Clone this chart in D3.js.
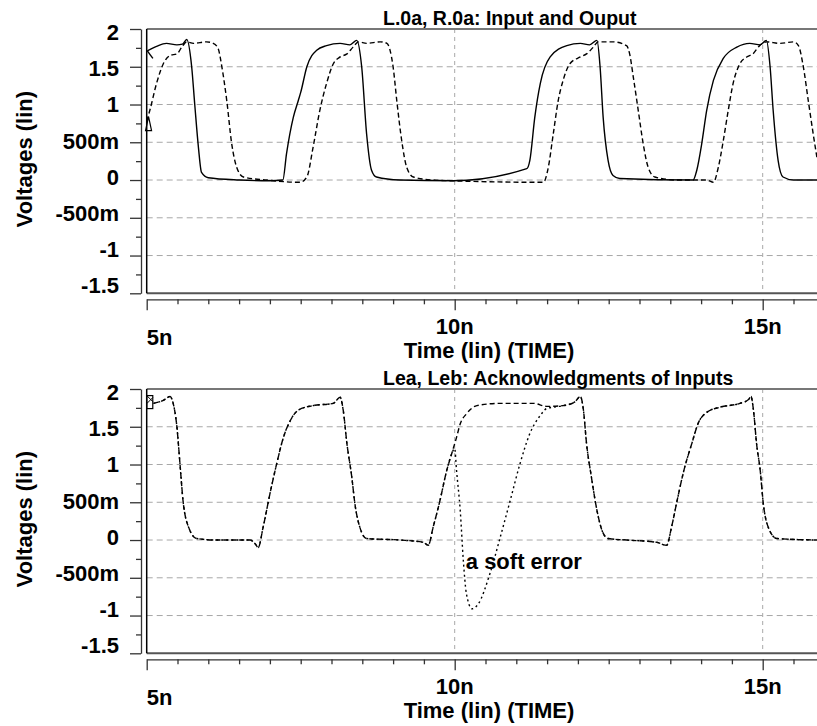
<!DOCTYPE html>
<html>
<head>
<meta charset="utf-8">
<script src="https://cdn.jsdelivr.net/npm/d3@7"></script>
<style>
  body { margin: 0; background: #fff; }
  text { font-family: "Liberation Sans", Arial, sans-serif; font-weight: bold; fill: #000; }
</style>
</head>
<body>
<div id="viz"></div>
<script>
const width = 817;
const height = 726;

// ---- data (time in ns, voltage in V) ----
const yTicks = [2, 1.5, 1, 0.5, 0, -0.5, -1, -1.5];
const yTickLabels = ["2", "1.5", "1", "500m", "0", "-500m", "-1", "-1.5"];
const yMinorTicks = [1.75, 1.25, 0.75, 0.25, -0.25, -0.75, -1.25];
const xTicks = [5, 10, 15];
const xTickLabels = ["5n", "10n", "15n"];
const xMinorTicks = d3.range(5.5, 16.01, 0.5).filter(t => t % 5 !== 0);
const yGrid = [1.5, 1, 0.5, 0, -0.5, -1];
const xGrid = [10, 15];

// top panel: L.0a (solid), R.0a (dashed)
const topSolid = [
  [5.01, 1.71], [5.16, 1.77], [5.32, 1.81], [5.49, 1.79], [5.58, 1.80], [5.65, 1.86],
  [5.73, 1.50], [5.78, 1.00], [5.84, 0.43], [5.89, 0.10], [6.00, 0.03], [6.50, 0.00], [7.00, -0.01],
  [7.21, 0.00], [7.27, 0.35], [7.38, 0.83], [7.46, 1.05], [7.50, 1.16], [7.60, 1.50], [7.76, 1.72],
  [7.92, 1.78], [8.14, 1.81], [8.30, 1.79], [8.41, 1.85], [8.49, 1.50], [8.57, 0.61], [8.65, 0.13],
  [8.73, 0.04], [9.11, 0.00], [9.97, -0.01], [11.17, 0.15], [11.22, 0.26], [11.30, 0.83], [11.39, 1.28],
  [11.55, 1.63], [11.82, 1.78], [12.04, 1.81], [12.19, 1.79], [12.31, 1.85], [12.36, 1.50], [12.41, 0.83],
  [12.49, 0.26], [12.57, 0.06], [12.68, 0.02], [13.87, 0.00], [13.93, 0.13], [14.01, 0.48], [14.09, 0.92],
  [14.20, 1.32], [14.36, 1.61], [14.58, 1.76], [14.79, 1.81], [14.96, 1.79], [15.06, 1.85], [15.12, 1.50],
  [15.17, 0.92], [15.25, 0.26], [15.33, 0.04], [15.50, 0.00], [15.90, 0.00]
];
const topDashed = [
  [5.00, 0.78], [5.05, 0.92], [5.16, 1.28], [5.27, 1.54], [5.38, 1.65], [5.49, 1.67], [5.57, 1.76],
  [5.65, 1.83], [5.76, 1.81], [5.97, 1.83], [6.08, 1.81], [6.16, 1.74], [6.22, 1.50], [6.30, 1.05],
  [6.38, 0.48], [6.46, 0.17], [6.57, 0.04], [6.95, 0.00], [7.49, -0.03], [7.60, 0.04], [7.70, 0.43],
  [7.81, 0.92], [7.92, 1.28], [8.03, 1.54], [8.14, 1.63], [8.25, 1.67], [8.35, 1.76], [8.44, 1.83],
  [8.57, 1.81], [8.79, 1.83], [8.90, 1.81], [8.95, 1.72], [9.00, 1.50], [9.06, 1.05], [9.14, 0.52],
  [9.22, 0.17], [9.33, 0.04], [9.65, 0.00], [9.97, -0.01], [11.44, -0.03], [11.52, 0.17], [11.60, 0.61],
  [11.68, 1.05], [11.76, 1.32], [11.87, 1.54], [12.04, 1.63], [12.14, 1.67], [12.25, 1.76], [12.33, 1.83],
  [12.57, 1.83], [12.79, 1.78], [12.84, 1.67], [12.90, 1.36], [12.98, 0.92], [13.06, 0.48], [13.14, 0.17],
  [13.25, 0.04], [13.60, 0.00], [14.09, 0.00], [14.20, -0.03], [14.28, 0.17], [14.36, 0.52], [14.44, 0.92],
  [14.52, 1.28], [14.63, 1.54], [14.74, 1.63], [14.84, 1.67], [14.95, 1.78], [15.06, 1.83], [15.28, 1.81],
  [15.50, 1.83], [15.58, 1.78], [15.66, 1.50], [15.74, 1.05], [15.82, 0.61], [15.88, 0.30]
];

// bottom panel: Lea (dashed), Leb (dotted, with the soft error)
const bottomLea = [
  [5.11, 1.81], [5.27, 1.85], [5.38, 1.90], [5.43, 1.81], [5.49, 1.50], [5.54, 1.01], [5.59, 0.52],
  [5.68, 0.17], [5.81, 0.02], [6.14, 0.00], [6.68, 0.00], [6.76, -0.05], [6.81, -0.10], [6.89, 0.17],
  [7.00, 0.61], [7.11, 1.01], [7.22, 1.36], [7.33, 1.58], [7.46, 1.72], [7.70, 1.78], [8.03, 1.81],
  [8.14, 1.89], [8.19, 1.72], [8.25, 1.28], [8.33, 0.83], [8.38, 0.48], [8.46, 0.17], [8.57, 0.02],
  [9.11, 0.00], [9.49, -0.03], [9.57, -0.07], [9.65, 0.17], [9.76, 0.52], [9.87, 0.92], [9.95, 1.14],
  [10.03, 1.36], [10.09, 1.54], [10.19, 1.67], [10.36, 1.78], [10.74, 1.81], [11.28, 1.81], [11.49, 1.77],
  [11.76, 1.78], [11.95, 1.83], [12.04, 1.90], [12.09, 1.72], [12.14, 1.28], [12.22, 0.83], [12.31, 0.39],
  [12.39, 0.13], [12.49, 0.02], [12.79, 0.00], [13.28, -0.03], [13.44, -0.07], [13.52, 0.17], [13.61, 0.52],
  [13.72, 0.92], [13.85, 1.28], [13.95, 1.54], [14.09, 1.69], [14.31, 1.76], [14.63, 1.81], [14.77, 1.86],
  [14.81, 1.90], [14.85, 1.72], [14.90, 1.28], [14.96, 0.92], [15.01, 0.48], [15.09, 0.17], [15.23, 0.02],
  [15.88, 0.00]
];
const bottomLeb = [
  [5.11, 1.81], [5.27, 1.85], [5.38, 1.90], [5.43, 1.81], [5.49, 1.50], [5.54, 1.01], [5.59, 0.52],
  [5.68, 0.17], [5.81, 0.02], [6.14, 0.00], [6.68, 0.00], [6.76, -0.05], [6.81, -0.10], [6.89, 0.17],
  [7.00, 0.61], [7.11, 1.01], [7.22, 1.36], [7.33, 1.58], [7.46, 1.72], [7.70, 1.78], [8.03, 1.81],
  [8.14, 1.89], [8.19, 1.72], [8.25, 1.28], [8.33, 0.83], [8.38, 0.48], [8.46, 0.17], [8.57, 0.02],
  [9.11, 0.00], [9.49, -0.03], [9.57, -0.07], [9.65, 0.17], [9.76, 0.52], [9.87, 0.92], [9.95, 1.14],
  [10.00, 1.21], [10.03, 0.92], [10.09, 0.39], [10.14, -0.27], [10.19, -0.71], [10.28, -0.91], [10.38, -0.85],
  [10.57, -0.45], [10.74, 0.04], [10.90, 0.52], [11.06, 1.01], [11.22, 1.41], [11.39, 1.65], [11.49, 1.74],
  [11.76, 1.78], [11.95, 1.83], [12.04, 1.90], [12.09, 1.72], [12.14, 1.28], [12.22, 0.83], [12.31, 0.39],
  [12.39, 0.13], [12.49, 0.02], [12.79, 0.00], [13.28, -0.03], [13.44, -0.07], [13.52, 0.17], [13.61, 0.52],
  [13.72, 0.92], [13.85, 1.28], [13.95, 1.54], [14.09, 1.69], [14.31, 1.76], [14.63, 1.81], [14.77, 1.86],
  [14.81, 1.90], [14.85, 1.72], [14.90, 1.28], [14.96, 0.92], [15.01, 0.48], [15.09, 0.17], [15.23, 0.02],
  [15.88, 0.00]
];

// start-of-trace markers, as in the simulator plot
const topMarkers = [
  { type: "hook", t: 5.01, v: 1.71, t2: 5.10, v2: 1.61 },
  { type: "triangle", t: 5.03, v: 0.72 }
];
const bottomMarkers = [
  { type: "box", t: 5.05, v: 1.82 }
];

const panels = [
  {
    title: "L.0a, R.0a: Input and Ouput",
    series: [
      { data: topSolid, dash: null },
      { data: topDashed, dash: "5,3" }
    ],
    markers: topMarkers,
    note: null
  },
  {
    title: "Lea, Leb: Acknowledgments of Inputs",
    series: [
      { data: bottomLea, dash: "5,3" },
      { data: bottomLeb, dash: "2,3" }
    ],
    markers: bottomMarkers,
    note: { text: "a soft error", t: 10.18, v: -0.38 }
  }
];

const margins = { left: 146.7, top: 29, panelStep: 360, plotHeight: 264.3 };

const svg = d3.select("#viz")
  .append("svg")
  .attr("width", width)
  .attr("height", height);

const xScale = d3.scaleLinear()
  .domain([5, 16])
  .range([margins.left, margins.left + 11 * 61.6]);

const line = d3.line().curve(d3.curveMonotoneX);

panels.forEach((p, i) => {
  const top = margins.top + i * margins.panelStep;
  const bottom = top + margins.plotHeight;
  const yScale = d3.scaleLinear().domain([-1.5, 2]).range([bottom, top]);
  const g = svg.append("g");

  // grid
  g.selectAll(".hgrid").data(yGrid).enter().append("line")
    .attr("x1", margins.left).attr("x2", width)
    .attr("y1", d => yScale(d)).attr("y2", d => yScale(d))
    .attr("stroke", "#a8a8a8").attr("stroke-dasharray", "6,4");
  g.selectAll(".vgrid").data(xGrid).enter().append("line")
    .attr("x1", d => xScale(d)).attr("x2", d => xScale(d))
    .attr("y1", top).attr("y2", bottom)
    .attr("stroke", "#a8a8a8").attr("stroke-dasharray", "4,4");

  // frame
  g.append("line").attr("x1", margins.left).attr("x2", width)
    .attr("y1", top).attr("y2", top).attr("stroke", "#777").attr("stroke-width", 2);
  g.append("line").attr("x1", margins.left).attr("x2", width)
    .attr("y1", bottom).attr("y2", bottom).attr("stroke", "#555").attr("stroke-width", 2);
  g.append("line").attr("x1", margins.left).attr("x2", margins.left)
    .attr("y1", top).attr("y2", bottom).attr("stroke", "#000").attr("stroke-width", 1.5);

  // y axis
  const yAxis = g.append("g")
    .attr("transform", "translate(141,0)")
    .call(d3.axisLeft(yScale).tickValues(yTicks).tickSize(11).tickSizeOuter(0).tickFormat(""));
  yAxis.select(".domain").attr("stroke", "#333").attr("stroke-width", 1.3);
  yAxis.selectAll(".tick line").attr("stroke", "#333").attr("stroke-width", 1.3);
  const yMinor = g.append("g")
    .attr("transform", "translate(141,0)")
    .call(d3.axisLeft(yScale).tickValues(yMinorTicks).tickSize(5).tickFormat(""));
  yMinor.select(".domain").remove();
  yMinor.selectAll(".tick line").attr("stroke", "#333").attr("stroke-width", 1.3);

  g.selectAll(".ylab").data(yTicks).enter().append("text")
    .attr("x", 119)
    .attr("y", d => yScale(d) + 11 * (d + 1.5) / 3.5)
    .attr("text-anchor", "end")
    .style("font-size", "22px")
    .text((d, j) => yTickLabels[j]);

  g.append("text")
    .attr("transform", `translate(32,${(top + bottom) / 2 - 2}) rotate(-90)`)
    .attr("text-anchor", "middle")
    .style("font-size", "22px")
    .text("Voltages (lin)");

  // x axis
  const xAxisY = bottom + 6;
  const xAxis = g.append("g")
    .attr("transform", `translate(0,${xAxisY})`)
    .call(d3.axisBottom(xScale).tickValues(xTicks).tickSize(11).tickSizeOuter(0).tickFormat(""));
  xAxis.select(".domain").attr("stroke", "#333").attr("stroke-width", 1.3);
  xAxis.selectAll(".tick line").attr("stroke", "#333").attr("stroke-width", 1.3);
  const xMinor = g.append("g")
    .attr("transform", `translate(0,${xAxisY})`)
    .call(d3.axisBottom(xScale).tickValues(xMinorTicks).tickSize(5).tickFormat(""));
  xMinor.select(".domain").remove();
  xMinor.selectAll(".tick line").attr("stroke", "#333").attr("stroke-width", 1.3);

  g.selectAll(".xlab").data(xTicks).enter().append("text")
    .attr("x", d => xScale(d))
    .attr("y", (d, j) => bottom + (j === 0 ? 52 : 40.5))
    .attr("text-anchor", (d, j) => j === 0 ? "start" : "middle")
    .style("font-size", "22px")
    .text((d, j) => xTickLabels[j]);

  g.append("text")
    .attr("x", 489)
    .attr("y", bottom + 64.5)
    .attr("text-anchor", "middle")
    .style("font-size", "22px")
    .text("Time (lin) (TIME)");

  // title
  g.append("text")
    .attr("x", 383)
    .attr("y", top - 4)
    .style("font-size", "19.5px")
    .text(p.title);

  // annotation
  if (p.note) {
    g.append("text")
      .attr("x", xScale(p.note.t))
      .attr("y", yScale(p.note.v))
      .style("font-size", "22px")
      .text(p.note.text);
  }

  // curves
  p.series.forEach(s => {
    g.append("path")
      .attr("fill", "none")
      .attr("stroke", "#000")
      .attr("stroke-width", 1.4)
      .attr("stroke-dasharray", s.dash)
      .attr("d", line(s.data.map(d => [xScale(d[0]), yScale(d[1])])));
  });

  // start markers
  p.markers.forEach(m => {
    const mx = xScale(m.t);
    const my = yScale(m.v);
    if (m.type === "hook") {
      g.append("line")
        .attr("x1", mx).attr("y1", my)
        .attr("x2", xScale(m.t2)).attr("y2", yScale(m.v2))
        .attr("stroke", "#000").attr("stroke-width", 1.4);
    } else if (m.type === "triangle") {
      g.append("path")
        .attr("d", `M ${mx - 3} ${my + 5} L ${mx} ${my - 9} L ${mx + 3} ${my + 5} Z`)
        .attr("fill", "none").attr("stroke", "#000").attr("stroke-width", 1.2);
    } else {
      g.append("rect")
        .attr("x", mx - 3).attr("y", my - 7).attr("width", 6).attr("height", 13)
        .attr("fill", "none").attr("stroke", "#000").attr("stroke-width", 1.2);
      g.append("path")
        .attr("d", `M ${mx - 3} ${my - 7} L ${mx + 3} ${my - 1} M ${mx - 3} ${my + 1} L ${mx + 3} ${my - 5}`)
        .attr("fill", "none").attr("stroke", "#000").attr("stroke-width", 1);
    }
  });
});
</script>
</body>
</html>
